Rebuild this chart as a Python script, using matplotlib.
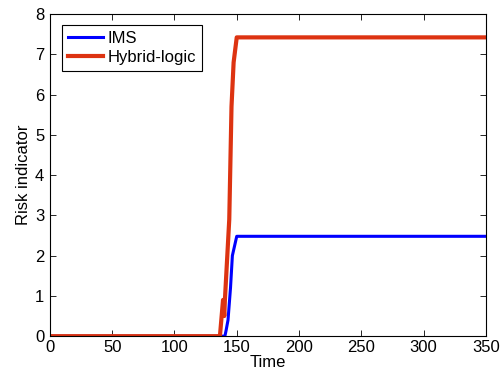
import matplotlib.pyplot as plt

plt.rcParams.update(
    {
        "font.family": ["Liberation Sans", "DejaVu Sans"],
        "font.size": 12,
        "xtick.direction": "in",
        "ytick.direction": "in",
        "xtick.top": True,
        "ytick.right": True,
    }
)

# IMS curve
ims_time = [0, 140.5, 141.5, 143, 145, 146.5, 150, 350]
ims_risk = [0, 0, 0.15, 0.4, 1.2, 2.0, 2.48, 2.48]

# Hybrid-logic curve
hyb_time = [0, 136.5, 139, 140, 140.5, 144, 145.8, 147.5, 150, 350]
hyb_risk = [0, 0, 0.9, 0.5, 0.9, 2.9, 5.7, 6.8, 7.42, 7.42]

fig = plt.figure(figsize=(5.04, 3.79), dpi=100)
ax = fig.add_axes([0.099, 0.113, 0.865, 0.850])

ax.plot(ims_time, ims_risk, color="#0000ff", linewidth=2.2, label="IMS")
ax.plot(hyb_time, hyb_risk, color="#dd3311", linewidth=3, label="Hybrid-logic")

ax.set_xlim(0, 350)
ax.set_ylim(0, 8)
ax.set_xticks(range(0, 351, 50))
ax.set_yticks(range(0, 9))
ax.set_xlabel("Time", labelpad=0)
ax.set_ylabel("Risk indicator", labelpad=3)
ax.tick_params(length=4, width=0.6)
ax.tick_params(axis="x", pad=3)
ax.tick_params(axis="y", pad=4)
for sp in ax.spines.values():
    sp.set_linewidth(0.8)

leg = ax.legend(
    loc="upper left",
    bbox_to_anchor=(0.028, 0.966),
    borderaxespad=0,
    fancybox=False,
    edgecolor="black",
    framealpha=1,
    handlelength=2.1,
    handletextpad=0.3,
    borderpad=0.35,
    labelspacing=0.25,
)
leg.get_frame().set_linewidth(0.8)

fig.savefig("out.png", dpi=100)
